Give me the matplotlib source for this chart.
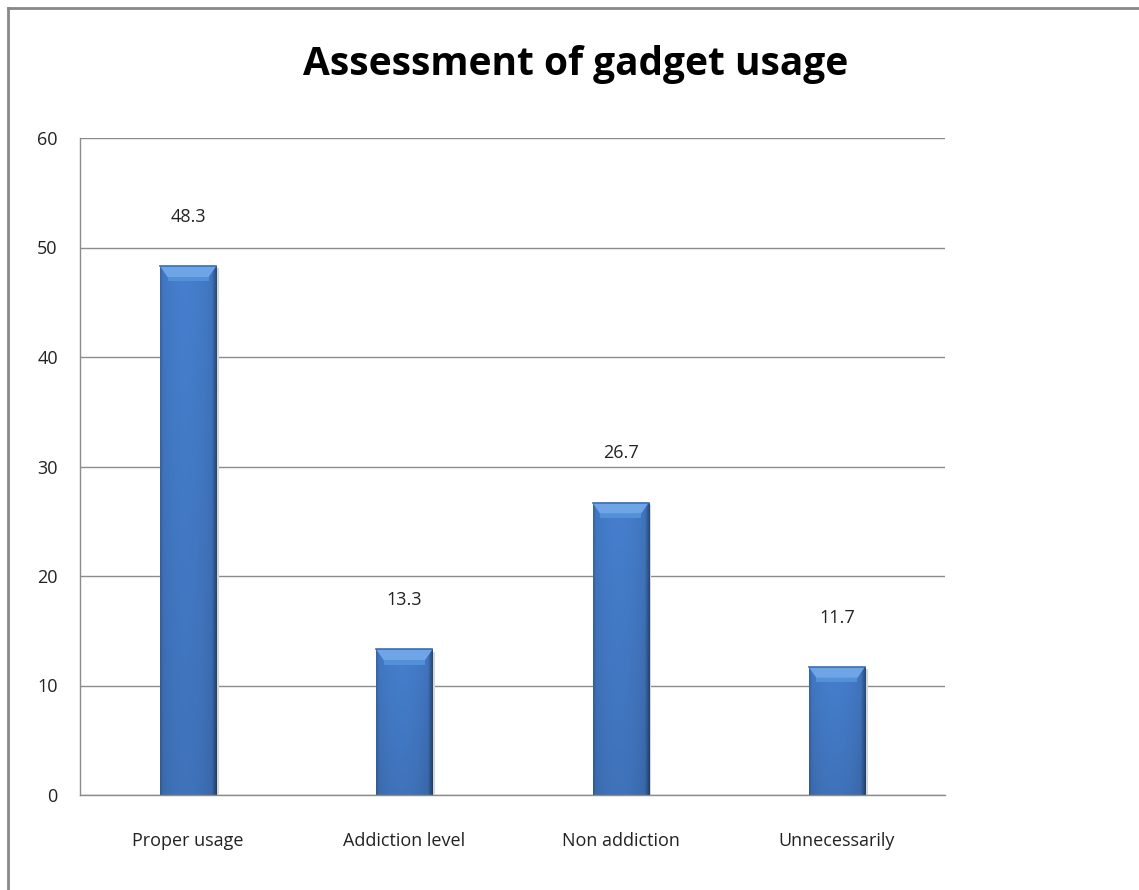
import numpy as np
import matplotlib.pyplot as plt
from matplotlib.lines import Line2D

categories = ['Proper usage', 'Addiction level', 'Non addiction', 'Unnecessarily']
values = [48.3, 13.3, 26.7, 11.7]
y_ticks = [0, 10, 20, 30, 40, 50, 60]

plt.rcParams['font.family'] = ['Open Sans', 'DejaVu Sans']

fig = plt.figure(figsize=(11.39, 8.90), dpi=100)
ax = fig.add_axes([80 / 1139, 1 - 795 / 890, 865 / 1139, 657 / 890])

x = np.arange(len(categories))
bars = ax.bar(x, values, width=0.26, color='#3f74bf', zorder=2)

# shaded look for each bar: slightly darker edges, darker toward the base
def bar_shade(h_px=200, w_px=60):
    u = np.linspace(0, 1, w_px)
    v = np.linspace(0, 1, h_px)[:, None]
    light = 0.04 - 0.10 * (np.abs(u - 0.45) * 2) ** 2
    light = light - 0.30 * np.clip((u - 0.92) / 0.08, 0, 1)
    light = light - 0.12 * np.clip((0.05 - u) / 0.05, 0, 1)
    light = light - 0.10 * v
    base = np.array([0x43, 0x7a, 0xc6]) / 255.0
    return np.clip(base[None, None, :] * (1 + light[..., None]), 0, 1)

for b in bars:
    x0 = b.get_x()
    w = b.get_width()
    h = b.get_height()
    # faint drop shadow on the right side
    ax.fill([x0 + w, x0 + w + 0.012, x0 + w + 0.012, x0 + w],
            [0, 0, h - 0.2, h - 0.2], color='#d6d6d6', zorder=1.9, lw=0)
    im = ax.imshow(bar_shade(), extent=(x0, x0 + w, 0, h), origin='upper',
                   aspect='auto', zorder=2.5)
    im.set_clip_path(b)
    bev = 1.0
    ax.fill([x0, x0 + w, x0 + w - 0.035, x0 + 0.035],
            [h, h, h - bev, h - bev], color='#6fa5e6', zorder=3, lw=0)
    ax.fill([x0 + 0.035, x0 + w - 0.035, x0 + w - 0.035, x0 + 0.035],
            [h - bev, h - bev, h - bev - 0.4, h - bev - 0.4],
            color='#5290d8', zorder=3, lw=0)
    ax.plot([x0, x0 + w], [h, h], color='#3a6fb8', lw=1.2, zorder=3.2)
    ax.text(x0 + w / 2, h + 4.5, f'{h:.1f}', ha='center', va='center',
            fontsize=13, color='#222222')

ax.set_xlim(-0.5, len(categories) - 0.5)
ax.set_ylim(0, 60)
ax.set_yticks(y_ticks)
ax.set_xticks(x)
ax.set_xticklabels(categories)
ax.tick_params(axis='both', length=0, labelsize=13, colors='#222222')
ax.tick_params(axis='y', pad=16)
ax.tick_params(axis='x', pad=27)
ax.grid(axis='y', color='#8c8c8c', linewidth=1, zorder=0)
ax.set_axisbelow(True)
for side in ['top', 'right']:
    ax.spines[side].set_visible(False)
for side in ['left', 'bottom']:
    ax.spines[side].set_color('#8c8c8c')
    ax.spines[side].set_linewidth(1)

fig.text(576 / 1139, 1 - 64 / 890, 'Assessment of gadget usage',
         ha='center', va='center', fontsize=28, fontweight='bold', color='black')

# outer chart frame (left and top edges)
fig.add_artist(Line2D([8 / 1139, 8 / 1139], [0, 1 - 8 / 890],
                      transform=fig.transFigure, color='#888888', lw=2))
fig.add_artist(Line2D([8 / 1139, 1], [1 - 8 / 890, 1 - 8 / 890],
                      transform=fig.transFigure, color='#888888', lw=2))

fig.savefig('out.png', dpi=100, facecolor='white')
